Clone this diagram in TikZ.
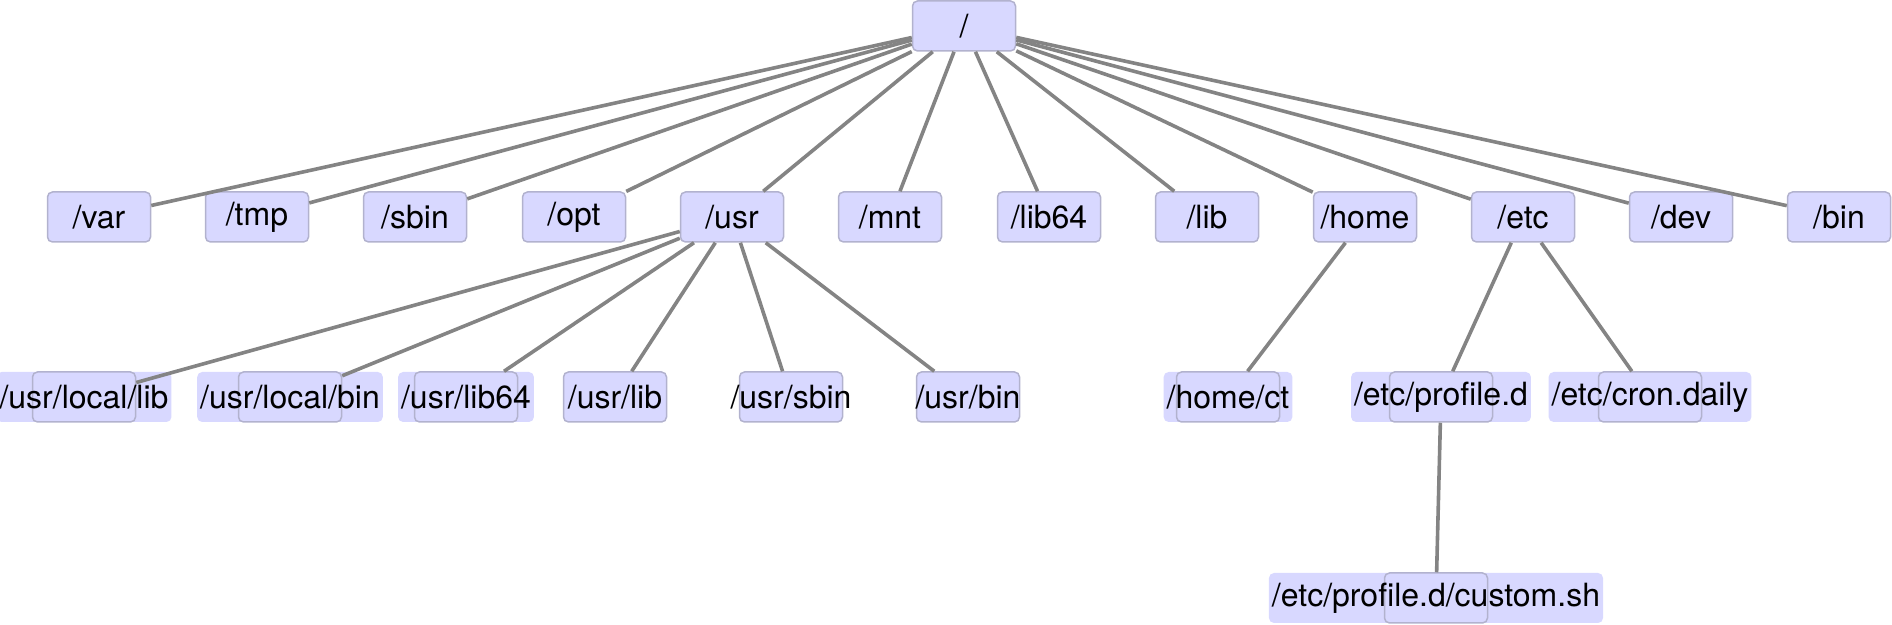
\documentclass[tikz,border=0pt]{standalone}
\usepackage{fontspec}
\setmainfont{TeX Gyre Heros}
\definecolor{dirfill}{RGB}{216,216,255}
\definecolor{dirline}{RGB}{178,178,206}
\definecolor{linkgray}{RGB}{132,132,132}

\begin{document}
\begin{tikzpicture}
[x=0.5pt,y=-0.5pt,
font=\fontsize{16}{19}\selectfont,
every node/.style={rounded corners=2.5pt,fill=dirfill,inner sep=0pt,
  minimum width=51.5pt,minimum height=25pt},
dir/.style={draw=dirline,line width=0.75pt},
wide/.style={inner xsep=1.5pt},
link/.style={draw=linkgray,line width=1.8pt},
]
\useasboundingbox (0,0) rectangle (1892,625);

% root and first level
\node[dir] (root) at (964,26) {/};
\node[dir] (var) at (99,217) {/var};
\node[dir] (tmp) at (257,217) {/tmp};
\node[dir] (sbin) at (415,217) {/sbin};
\node[dir] (opt) at (574,217) {/opt};
\node[dir] (usr) at (732,217) {/usr};
\node[dir] (mnt) at (890,217) {/mnt};
\node[dir] (lib64) at (1049,217) {/lib64};
\node[dir] (lib) at (1207,217) {/lib};
\node[dir] (home) at (1365,217) {/home};
\node[dir] (etc) at (1523,217) {/etc};
\node[dir] (dev) at (1681,217) {/dev};
\node[dir] (bin) at (1839,217) {/bin};

% second level, labels wider than the box get a background
\node[wide] (usrlocallib-bg) at (84,397) {\phantom{/usr/local/lib}};
\node[dir] (usrlocallib) at (84,397) {\makebox[0pt]{/usr/local/lib}};
\node[wide] (usrlocalbin-bg) at (290,397) {\phantom{/usr/local/bin}};
\node[dir] (usrlocalbin) at (290,397) {\makebox[0pt]{/usr/local/bin}};
\node[wide] (usrlib64-bg) at (466,397) {\phantom{/usr/lib64}};
\node[dir] (usrlib64) at (466,397) {\makebox[0pt]{/usr/lib64}};
\node[dir] (usrlib) at (615,397) {/usr/lib};
\node[dir] (usrsbin) at (791,397) {\makebox[0pt]{/usr/sbin}};
\node[dir] (usrbin) at (968,397) {\makebox[0pt]{/usr/bin}};
\node[wide] (homect-bg) at (1228,397) {\phantom{/home/ct}};
\node[dir] (homect) at (1228,397) {\makebox[0pt]{/home/ct}};
\node[wide] (profiled-bg) at (1441,397) {\phantom{/etc/profile.d}};
\node[dir] (profiled) at (1441,397) {\makebox[0pt]{/etc/profile.d}};
\node[wide] (crondaily-bg) at (1650,397) {\phantom{/etc/cron.daily}};
\node[dir] (crondaily) at (1650,397) {\makebox[0pt]{/etc/cron.daily}};

% third level
\node[wide] (customsh-bg) at (1436,598) {\phantom{/etc/profile.d/custom.sh}};
\node[dir] (customsh) at (1436,598) {\makebox[0pt]{/etc/profile.d/custom.sh}};

\foreach \a/\b in {root/var,root/tmp,root/sbin,root/opt,root/usr,root/mnt,
  root/lib64,root/lib,root/home,root/etc,root/dev,root/bin,
  usr/usrlocallib,usr/usrlocalbin,usr/usrlib64,usr/usrlib,usr/usrsbin,usr/usrbin,
  home/homect,etc/profiled,etc/crondaily,profiled/customsh}
  \draw[link] (\a) -- (\b);
\end{tikzpicture}
\end{document}
